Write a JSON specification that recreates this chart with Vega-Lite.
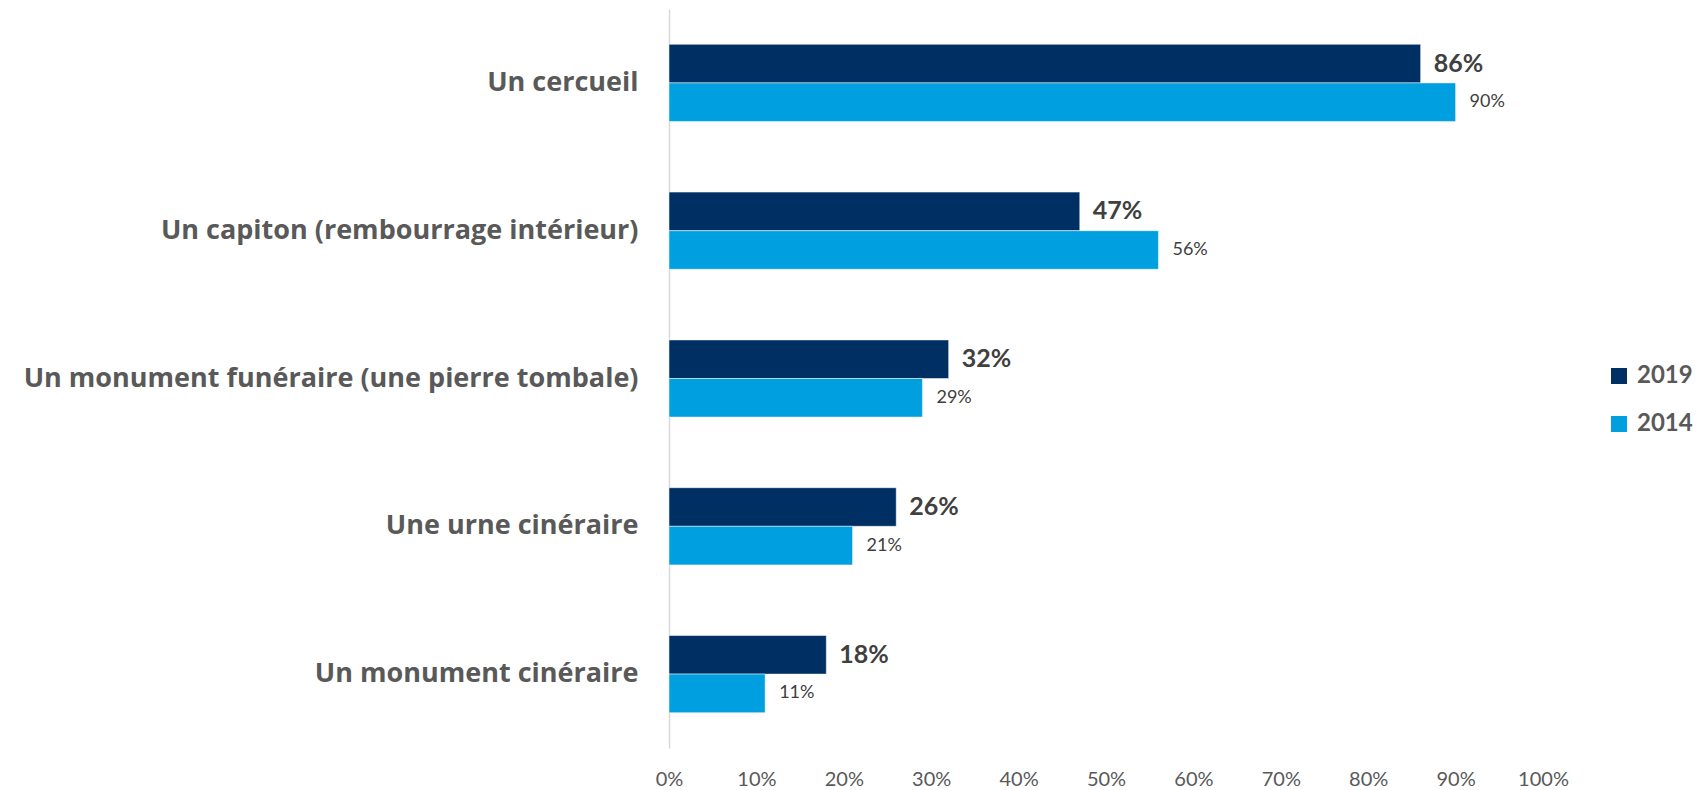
{
  "$schema": "https://vega.github.io/schema/vega-lite/v6.json",
  "width": 874,
  "height": 739,
  "autosize": {"type": "none"},
  "padding": {"left": 669, "top": 9, "right": 154, "bottom": 42},
  "background": "white",
  "config": {"view": {"stroke": null}, "font": "Lato"},
  "data": {"values": [
    {"item": "Un cercueil", "year": "2019", "value": 0.86},
    {"item": "Un cercueil", "year": "2014", "value": 0.90},
    {"item": "Un capiton (rembourrage intérieur)", "year": "2019", "value": 0.47},
    {"item": "Un capiton (rembourrage intérieur)", "year": "2014", "value": 0.56},
    {"item": "Un monument funéraire (une pierre tombale)", "year": "2019", "value": 0.32},
    {"item": "Un monument funéraire (une pierre tombale)", "year": "2014", "value": 0.29},
    {"item": "Une urne cinéraire", "year": "2019", "value": 0.26},
    {"item": "Une urne cinéraire", "year": "2014", "value": 0.21},
    {"item": "Un monument cinéraire", "year": "2019", "value": 0.18},
    {"item": "Un monument cinéraire", "year": "2014", "value": 0.11}
  ]},
  "encoding": {
    "y": {
      "field": "item", "type": "nominal", "sort": null,
      "scale": {"paddingInner": 0.478, "paddingOuter": 0.239},
      "axis": {
        "title": null, "ticks": false, "labelFont": "Open Sans", "labelFontSize": 27,
        "labelFontWeight": "bold", "labelColor": "#595959", "labelPadding": 31,
        "labelLimit": 800, "domainColor": "#d9d9d9", "domainWidth": 1.5
      }
    },
    "yOffset": {"field": "year", "type": "nominal", "sort": ["2019", "2014"], "scale": {"paddingInner": 0, "paddingOuter": 0}},
    "x": {
      "field": "value", "type": "quantitative",
      "scale": {"domain": [0, 1], "nice": false},
      "axis": {
        "title": null, "format": ".0%", "values": [0, 0.1, 0.2, 0.3, 0.4, 0.5, 0.6, 0.7, 0.8, 0.9, 1],
        "grid": false, "domain": false, "ticks": false, "labelFont": "Lato", "labelFontSize": 20,
        "labelColor": "#595959", "labelPadding": 21, "labelFlush": false
      }
    }
  },
  "layer": [
    {
      "mark": {"type": "bar", "stroke": "white", "strokeWidth": 0.5},
      "encoding": {
        "color": {
          "field": "year", "type": "nominal",
          "scale": {"domain": ["2019", "2014"], "range": ["#003063", "#009fdf"]},
          "legend": {
            "title": null, "orient": "none", "legendX": 938, "legendY": 355,
            "symbolType": "square", "symbolSize": 256, "symbolStrokeWidth": 0,
            "labelFont": "Lato", "labelFontSize": 24, "labelFontWeight": "bold",
            "labelColor": "#595959", "rowPadding": 24, "labelOffset": 6, "padding": 0
          }
        }
      }
    },
    {
      "transform": [{"filter": "datum.year === '2019'"}],
      "mark": {"type": "text", "align": "left", "baseline": "middle", "dx": 13, "font": "Lato", "fontSize": 25, "fontWeight": "bold", "color": "#404040"},
      "encoding": {"text": {"field": "value", "type": "quantitative", "format": ".0%"}}
    },
    {
      "transform": [{"filter": "datum.year === '2014'"}],
      "mark": {"type": "text", "align": "left", "baseline": "middle", "dx": 14, "font": "Lato", "fontSize": 18, "color": "#404040"},
      "encoding": {"text": {"field": "value", "type": "quantitative", "format": ".0%"}}
    }
  ]
}
